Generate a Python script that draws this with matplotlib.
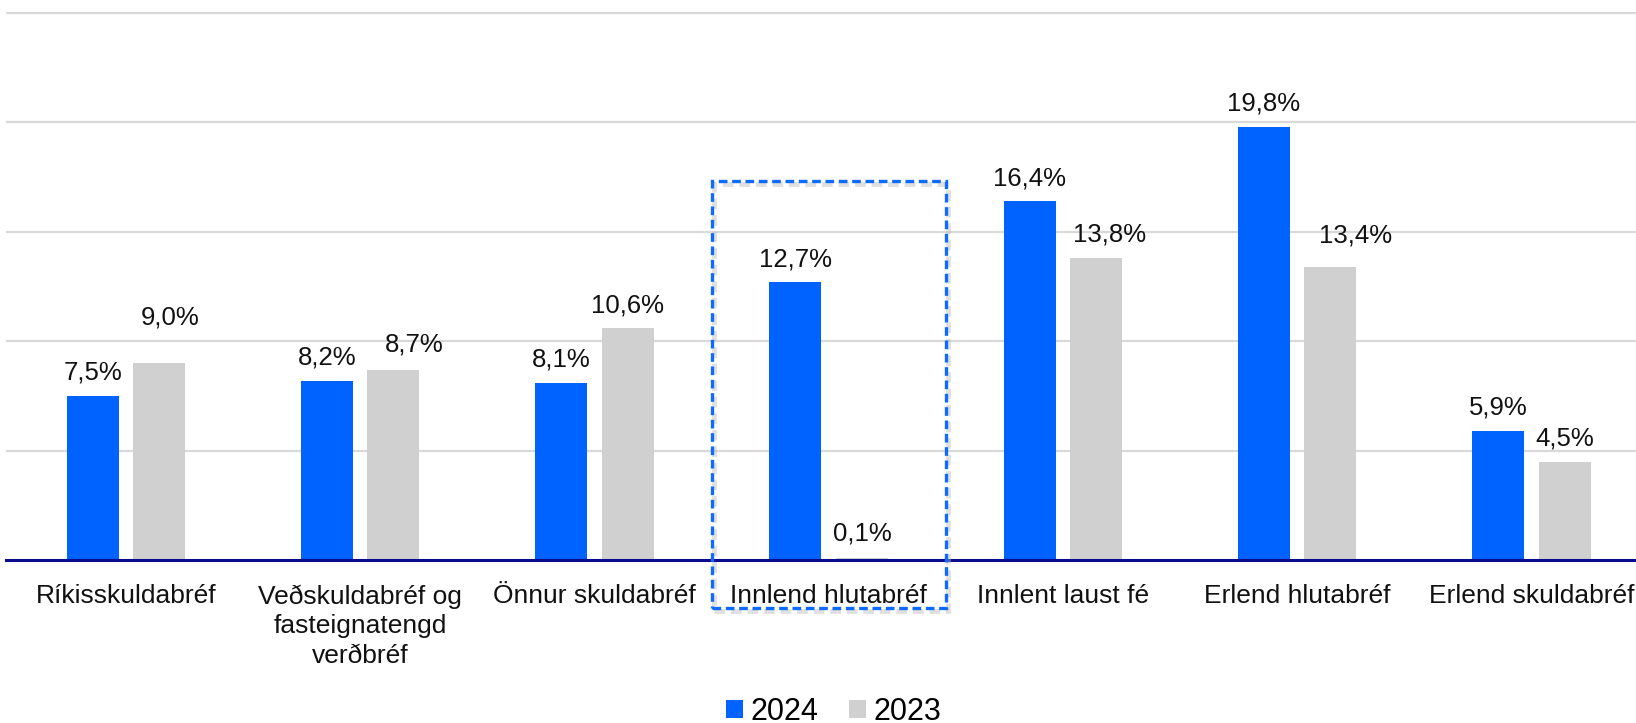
import matplotlib
matplotlib.use("Agg")
import matplotlib.pyplot as plt
from matplotlib.patches import Rectangle
import numpy as np

categories = ["Ríkisskuldabréf", "Veðskuldabréf og\nfasteignatengd\nverðbréf", "Önnur skuldabréf",
              "Innlend hlutabréf", "Innlent laust fé", "Erlend hlutabréf", "Erlend skuldabréf"]
values_2024 = [7.5, 8.2, 8.1, 12.7, 16.4, 19.8, 5.9]
values_2023 = [9.0, 8.7, 10.6, 0.1, 13.8, 13.4, 4.5]
series_names = ["2024", "2023"]
highlight_index = 3

# manual label nudges (pixels) as placed in the original chart
nudge_x_2023 = [10.5, 21, 0, 0, 13.5, 25, 0]
nudge_y_2023 = [23, 2, 0, 1, 0, 8, 0]

BLUE = "#0062FF"
GRAY = "#D0D0D0"

plt.rcParams['font.family'] = ['Liberation Sans', 'DejaVu Sans']

W, H = 1636, 723
DPI = 100
PX = 72.0 / DPI  # points per pixel
fig = plt.figure(figsize=(W / DPI, H / DPI), dpi=DPI)
left_px, bottom_px, top_px = 6.3, 560.0, 12.0
ax = fig.add_axes([left_px / W, (H - bottom_px) / H, 1 - left_px / W, (bottom_px - top_px) / H])

x = np.arange(len(categories))
bw = 0.222
off = 0.142
b1 = ax.bar(x - off, values_2024, bw, color=BLUE, label=series_names[0], zorder=3)
b2 = ax.bar(x + off, values_2023, bw, color=GRAY, label=series_names[1], zorder=3)

ax.set_xlim(-0.511, 6.447)
ax.set_ylim(0, 25.05)
ax.set_yticks([5, 10, 15, 20, 25])
ax.yaxis.grid(True, color="#D9D9D9", linewidth=1.6, zorder=0)
ax.tick_params(axis='y', left=False, labelleft=False)
for s in ["top", "right", "left"]:
    ax.spines[s].set_visible(False)
ax.spines["bottom"].set_color("#0A0A8C")
ax.spines["bottom"].set_linewidth(2.2)
ax.spines["bottom"].set_zorder(4)

ax.set_xticks(x)
ax.set_xticklabels(categories, fontsize=19, linespacing=1.29, color="#111111")
ax.tick_params(axis='x', length=0, pad=17.5)

def fmt(v):
    return f"{v:.1f}%".replace(".", ",")

LBL = 18.5
for rect, v in zip(b1, values_2024):
    ax.annotate(fmt(v), (rect.get_x() + rect.get_width() / 2, rect.get_height()),
                xytext=(0, 8), textcoords="offset points", ha="center", va="bottom",
                fontsize=LBL, color="#111111")
for rect, v, dx, dy in zip(b2, values_2023, nudge_x_2023, nudge_y_2023):
    ax.annotate(fmt(v), (rect.get_x() + rect.get_width() / 2, rect.get_height()),
                xytext=(dx * PX, 8 + dy * PX), textcoords="offset points", ha="center",
                va="bottom", fontsize=LBL, color="#111111")

# dashed highlight box around a category
y_top = 17.32
y_bot = -2.2
rx0 = highlight_index - 0.497
shadow = Rectangle((rx0 + 0.008, y_bot - 0.12), 0.997, y_top - y_bot, fill=False,
                   edgecolor="#BBBBBB", linewidth=3.5, linestyle=(0, (2.2, 1.2)), alpha=0.45,
                   clip_on=False, zorder=5)
ax.add_patch(shadow)
box = Rectangle((rx0, y_bot), 0.997, y_top - y_bot, fill=False, edgecolor="#0F6BFF",
                linewidth=2.4, linestyle=(0, (2.6, 1.4)), clip_on=False, zorder=6)
ax.add_patch(box)

fig.legend(handles=[b1, b2], labels=series_names, loc="lower center",
           bbox_to_anchor=(0.5095, -0.005), ncol=2, frameon=False, fontsize=22,
           handlelength=0.55, handleheight=0.55, handletextpad=0.25, columnspacing=1.0,
           borderpad=0.0, borderaxespad=0.0)

fig.savefig("out.png", dpi=DPI)
